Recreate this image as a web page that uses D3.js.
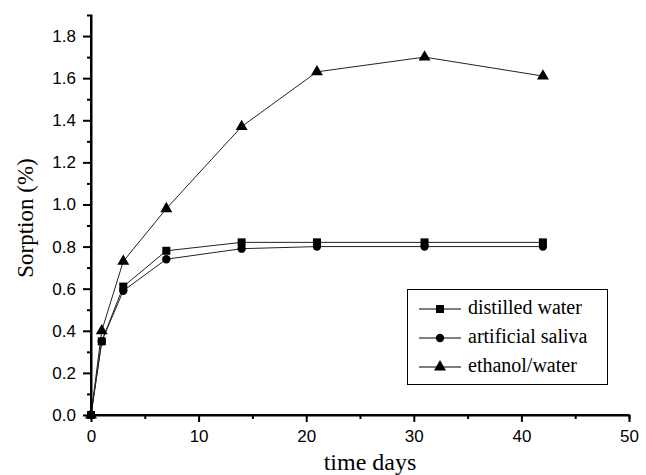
<!DOCTYPE html>
<html>
<head>
<meta charset="utf-8">
<script src="https://cdn.jsdelivr.net/npm/d3@7"></script>
<style>
  html, body { margin: 0; padding: 0; background: #fff; }
  svg { display: block; }
</style>
</head>
<body>
<svg id="chart" width="646" height="475"></svg>
<script>
const days = [0, 1, 3, 7, 14, 21, 31, 42];
const distilledWater = [0, 0.35, 0.61, 0.78, 0.82, 0.82, 0.82, 0.82];
const artificialSaliva = [0, 0.35, 0.59, 0.74, 0.79, 0.80, 0.80, 0.80];
const ethanolWater = [0, 0.40, 0.73, 0.98, 1.37, 1.63, 1.70, 1.61];
const seriesNames = ["distilled water", "artificial saliva", "ethanol/water"];
const xTicks = [0, 10, 20, 30, 40, 50];
const yTicks = [0.0, 0.2, 0.4, 0.6, 0.8, 1.0, 1.2, 1.4, 1.6, 1.8];

const svg = d3.select("#chart");
const mLeft = 91, mRight = 629, mTop = 15, mBottom = 415;
const x = d3.scaleLinear().domain([0, 50]).range([mLeft, mRight]);
const y = d3.scaleLinear().domain([0, 1.9]).range([mBottom, mTop]);

const series = [
  { name: seriesNames[0], values: distilledWater, symbol: d3.symbolSquare, size: 64 },
  { name: seriesNames[1], values: artificialSaliva, symbol: d3.symbolCircle, size: 55 },
  { name: seriesNames[2], values: ethanolWater, symbol: d3.symbolTriangle, size: 62 }
];

// Lines
const line = d3.line().x((d, i) => x(days[i])).y(d => y(d));
series.forEach(s => {
  svg.append("path").attr("d", line(s.values))
    .attr("fill", "none").attr("stroke", "#222").attr("stroke-width", 1);
});
// Markers
series.forEach(s => {
  svg.append("g").selectAll("path").data(s.values).join("path")
    .attr("d", d3.symbol().type(s.symbol).size(s.size))
    .attr("transform", (d, i) => `translate(${x(days[i])},${y(d)})`)
    .attr("fill", "#000");
});

// Axes
const fontSans = "'Liberation Sans', Arial, sans-serif";
const fontSerif = "'Liberation Serif', 'Times New Roman', serif";

const xAxis = d3.axisBottom(x).tickValues(xTicks).tickSize(7).tickPadding(8).tickFormat(d3.format("d"));
const gx = svg.append("g").attr("transform", `translate(0,${mBottom})`).call(xAxis);
const yAxis = d3.axisLeft(y).tickValues(yTicks).tickSize(8).tickPadding(7).tickFormat(d3.format(".1f"));
const gy = svg.append("g").attr("transform", `translate(${mLeft},0)`).call(yAxis);

// Minor ticks
const gxm = svg.append("g").attr("transform", `translate(0,${mBottom})`)
  .call(d3.axisBottom(x).tickValues([5, 15, 25, 35, 45]).tickSize(4).tickFormat(""));
const gym = svg.append("g").attr("transform", `translate(${mLeft},0)`)
  .call(d3.axisLeft(y).tickValues([0.1, 0.3, 0.5, 0.7, 0.9, 1.1, 1.3, 1.5, 1.7]).tickSize(4).tickFormat(""));

[gx, gy, gxm, gym].forEach(g => {
  g.select(".domain").attr("stroke", "#000").attr("stroke-width", 2);
  g.selectAll(".tick line").attr("stroke", "#000").attr("stroke-width", 2);
  g.selectAll("text").attr("font-family", fontSans).attr("font-size", 17).attr("fill", "#000");
});
gx.select(".domain").attr("d", `M${mLeft - 1},0H${mRight}`);
gy.select(".domain").attr("d", `M0,${mBottom + 1}V${mTop}`);

// Axis titles
svg.append("text").attr("x", 370).attr("y", 470).attr("text-anchor", "middle")
  .attr("font-family", fontSerif).attr("font-size", 24).text("time days");
svg.append("text").attr("transform", `translate(33,218) rotate(-90)`).attr("text-anchor", "middle")
  .attr("font-family", fontSerif).attr("font-size", 23).text("Sorption (%)");

// Legend
const lg = svg.append("g");
lg.append("rect").attr("x", 407.5).attr("y", 289.5).attr("width", 200).attr("height", 95)
  .attr("fill", "#fff").attr("stroke", "#000").attr("stroke-width", 1);
series.forEach((s, i) => {
  const ly = 309 + i * 29;
  lg.append("line").attr("x1", 419).attr("x2", 461).attr("y1", ly).attr("y2", ly)
    .attr("stroke", "#000").attr("stroke-width", 1);
  lg.append("path").attr("d", d3.symbol().type(s.symbol).size(s.size)())
    .attr("transform", `translate(440,${ly})`).attr("fill", "#000");
  lg.append("text").attr("x", 468).attr("y", ly + 5)
    .attr("font-family", fontSerif).attr("font-size", 20).text(s.name);
});
</script>
</body>
</html>
